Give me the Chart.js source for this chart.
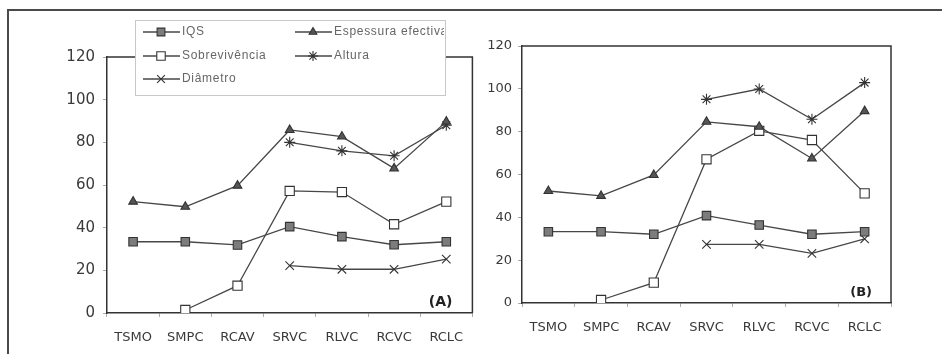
<!DOCTYPE html>
<html><head><meta charset="utf-8">
<script src="https://cdn.jsdelivr.net/npm/chart.js@4.4.0/dist/chart.umd.min.js"></script>
<style>
html,body{margin:0;padding:0;background:#fff;width:942px;height:354px;overflow:hidden;}
#frame{position:absolute;left:7px;top:9px;width:1000px;height:343px;border-left:2px solid #4a4a4a;border-top:2px solid #4a4a4a;border-bottom:1px solid #bbb;}
#wa{position:absolute;left:0;top:0;width:480px;height:354px;}
#wb{position:absolute;left:480px;top:0;width:462px;height:354px;}
</style></head><body>
<div id="frame"></div>
<div id="wa"><canvas id="ca"></canvas></div>
<div id="wb"><canvas id="cb"></canvas></div>
<script>
const categories = ['TSMO','SMPC','RCAV','SRVC','RLVC','RCVC','RCLC'];
const yTicks = [0,20,40,60,80,100,120];
const seriesNames = ['IQS','Espessura efectiva','Sobrevivência','Altura','Diâmetro'];
const panelLabels = ['(A)','(B)'];
// Panel A
const iqsA = [33.4,33.4,31.9,40.5,35.8,32.0,33.4];
const espA = [52.2,49.8,59.7,85.8,82.7,67.8,89.7];
const sobA = [null,1.4,12.8,57.2,56.7,41.6,52.2];
const altA = [null,null,null,80.0,76.0,73.7,88.0];
const diaA = [null,null,null,22.2,20.5,20.5,25.3];
// Panel B
const iqsB = [33.3,33.3,32.1,40.8,36.4,32.1,33.3];
const espB = [52.3,50.0,59.8,84.6,82.3,67.5,89.6];
const sobB = [null,1.4,9.5,67.1,80.4,76.1,51.2];
const altB = [null,null,null,95.1,99.9,85.8,102.9];
const diaB = [null,null,null,27.4,27.4,23.2,29.9];

const LINE = '#474747';
const styles = [
  {pointStyle:'rect', pointRadius:6, pointBackgroundColor:'#7c7c7c', pointBorderColor:'#333'},
  {pointStyle:'triangle', pointRadius:5, pointBackgroundColor:'#555', pointBorderColor:'#333'},
  {pointStyle:'rect', pointRadius:6.5, pointBackgroundColor:'#fff', pointBorderColor:'#333'},
  {pointStyle:'star', pointRadius:5.5, pointBackgroundColor:'#333', pointBorderColor:'#333'},
  {pointStyle:'crossRot', pointRadius:6, pointBackgroundColor:'#333', pointBorderColor:'#333'}
];

function makeDatasets(arrs){
  return arrs.map((d,i)=>Object.assign({
    label: seriesNames[i], data: d, borderColor: LINE, borderWidth: 1.3,
    pointBorderWidth: 1.1, tension: 0, fill: false
  }, styles[i]));
}

const frameBox = {
  id:'frameBox',
  afterDraw(chart){
    const a = chart.chartArea, ctx = chart.ctx;
    ctx.save();
    ctx.strokeStyle = '#333'; ctx.lineWidth = 1.5;
    ctx.beginPath();
    ctx.moveTo(a.left, a.top); ctx.lineTo(a.right, a.top); ctx.lineTo(a.right, a.bottom);
    ctx.stroke();
    const o = chart.options.plugins.frameBox;
    ctx.fillStyle = '#222';
    ctx.font = 'bold ' + o.size + 'px "DejaVu Sans"';
    ctx.textAlign = 'right'; ctx.textBaseline = 'middle';
    ctx.fillText(o.text, a.right - o.dx, a.bottom - o.dy);
    ctx.restore();
  }
};

const boxLegend = {
  id:'boxLegend',
  afterDraw(chart){
    const o = chart.options.plugins.boxLegend;
    if(!o || !o.show) return;
    const ctx = chart.ctx;
    ctx.save();
    const bx=135, by=20, bw=310, bh=75;
    ctx.fillStyle='#fff'; ctx.fillRect(bx,by,bw,bh);
    ctx.strokeStyle='#c8c8c8'; ctx.lineWidth=1; ctx.strokeRect(bx+0.5,by+0.5,bw,bh);
    ctx.beginPath(); ctx.rect(bx,by,bw-1,bh); ctx.clip();
    const slots = [[143,32],[295,32],[143,56],[295,56],[143,79]];
    chart.data.datasets.forEach((ds,i)=>{
      const [x,y] = slots[i];
      ctx.strokeStyle = LINE; ctx.lineWidth = 1.3;
      ctx.beginPath(); ctx.moveTo(x,y); ctx.lineTo(x+37,y); ctx.stroke();
      ctx.fillStyle = ds.pointBackgroundColor; ctx.strokeStyle = ds.pointBorderColor; ctx.lineWidth = 1.1;
      Chart.helpers.drawPoint(ctx, {pointStyle: ds.pointStyle, radius: ds.pointRadius - 0.5, rotation: 0, borderWidth: 1.1}, x+18, y);
      ctx.fillStyle = '#666';
      ctx.font = '12px "Liberation Sans"';
      ctx.letterSpacing = '0.7px';
      ctx.textAlign = 'left'; ctx.textBaseline = 'middle';
      ctx.fillText(ds.label, x+39, y);
    });
    ctx.restore();
  }
};

function makeChart(id, arrs, cfg){
  return new Chart(document.getElementById(id), {
    type:'line',
    data:{labels: categories, datasets: makeDatasets(arrs)},
    plugins:[frameBox, boxLegend],
    options:{
      responsive:true, maintainAspectRatio:false, animation:false,
      layout:{padding:{top:cfg.top, right:cfg.right, left:0, bottom:0}},
      plugins:{
        legend:{display:false}, tooltip:{enabled:false},
        frameBox:{text:cfg.label, size:cfg.lsize, dx:cfg.ldx, dy:cfg.ldy},
        boxLegend:{show:cfg.legend}
      },
      scales:{
        x:{
          type:'category', offset:true,
          grid:{display:true, drawOnChartArea:false, offset:true, tickLength:4, color:'#aaa'},
          border:{display:true, color:'#333', width:1.5},
          ticks:{color:'#3a3a3a', padding:13, maxRotation:0, font:{family:'"DejaVu Sans"', size:13}},
          afterFit(s){ s.height = cfg.xh; }
        },
        y:{
          min:0, max:120,
          afterBuildTicks(s){ s.ticks = yTicks.map(v=>({value:v})); },
          grid:{display:true, drawOnChartArea:false, tickLength:4, color:'#aaa'},
          border:{display:true, color:'#333', width:1.5},
          ticks:{color:'#3a3a3a', padding:cfg.ypad, font:{family:'"DejaVu Sans"', size:cfg.yfont}},
          afterFit(s){ s.width = cfg.yw; }
        }
      }
    }
  });
}

makeChart('ca', [iqsA, espA, sobA, altA, diaA], {top:57, right:7, xh:41, yw:107, ypad:8, yfont:15, label:panelLabels[0], lsize:14, ldx:20, ldy:11, legend:true});
makeChart('cb', [iqsB, espB, sobB, altB, diaB], {top:46, right:51, xh:51, yw:42, ypad:6, yfont:13, label:panelLabels[1], lsize:13, ldx:19, ldy:10, legend:false});
</script>
</body></html>
